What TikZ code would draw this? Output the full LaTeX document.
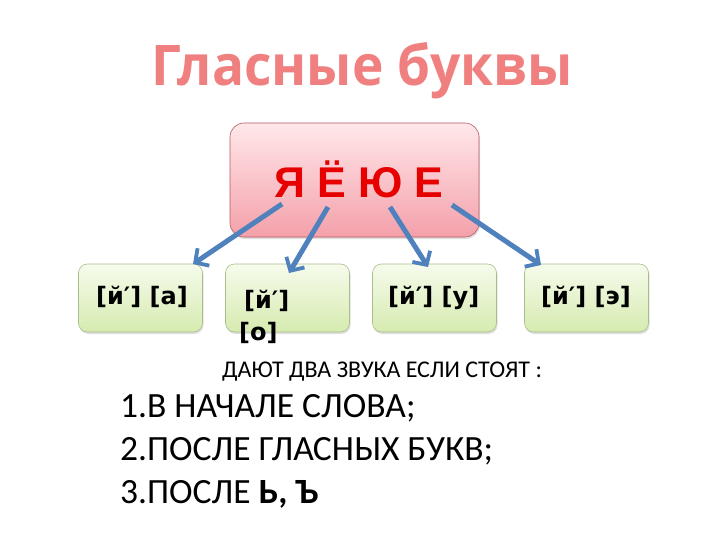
\documentclass[tikz,border=0pt]{standalone}
\usepackage{fontspec}
\setmainfont{Carlito}
\newfontfamily\titlefont[FakeStretch=0.95]{Open Sans}
\newfontfamily\arialfont{Liberation Sans}
\newfontfamily\soundfont{DejaVu Sans}
\usetikzlibrary{arrows.meta,shadows}
\definecolor{titlecol}{RGB}{240,128,128}
\definecolor{lettercol}{RGB}{230,0,0}
\definecolor{arrowcol}{RGB}{79,129,189}
\definecolor{pinktop}{RGB}{255,232,234}
\definecolor{pinkbot}{RGB}{244,160,170}
\definecolor{pinkline}{RGB}{180,90,100}
\definecolor{greentop}{RGB}{246,251,236}
\definecolor{greenbot}{RGB}{214,235,176}
\definecolor{greenline}{RGB}{168,190,140}
\begin{document}
\begin{tikzpicture}[x=1pt,y=-1pt,
  titlestyle/.style={inner sep=0pt,anchor=base,text=titlecol,font=\titlefont\bfseries\fontsize{56}{60}\selectfont},
  topbox/.style={draw=pinkline,line width=0.6pt,rounded corners=14pt,top color=pinktop,bottom color=pinkbot,minimum width=249pt,minimum height=114pt,inner sep=0pt,drop shadow={opacity=0.25,shadow xshift=1pt,shadow yshift=-2pt}},
  lettersstyle/.style={inner sep=0pt,anchor=base,text=lettercol,font=\arialfont\bfseries\fontsize{43}{44}\selectfont},
  soundbox/.style={draw=greenline,line width=0.6pt,rounded corners=9pt,top color=greentop,bottom color=greenbot,minimum width=124pt,minimum height=68pt,inner sep=0pt,drop shadow={opacity=0.25,shadow xshift=1pt,shadow yshift=-2pt}},
  soundtext/.style={inner sep=0pt,anchor=base west,font=\soundfont\bfseries\fontsize{24}{25}\selectfont},
  arr/.style={draw=arrowcol,line width=5pt,-{Straight Barb[length=10pt,width=21pt,line width=3.8pt]}},
  smalltext/.style={inner sep=0pt,anchor=base west,font=\fontsize{24}{25}\selectfont},
  ruletext/.style={inner sep=0pt,anchor=base west,font=\fontsize{35.5}{36}\selectfont}
]
\useasboundingbox (0,0) rectangle (720,540);
\fill[white] (0,0) rectangle (720,540);
\node[titlestyle] (title) at (362,86) {Гласные буквы};
\node[topbox] (top) at (354.5,180) {};
\node[lettersstyle] (letters) at (359,197) {Я Ё Ю Е};
\node[soundbox] (b1) at (140.5,298) {};
\node[soundbox] (b2) at (287.5,298) {};
\node[soundbox] (b3) at (434.5,298) {};
\node[soundbox] (b4) at (586.5,298) {};
\node[soundtext] (t1) at (96,304) {[й′] [а]};
\node[soundtext] (t2a) at (244,308) {[й′]};
\node[soundtext] (t2b) at (239,340) {[о]};
\node[soundtext] (t3) at (388,304) {[й′] [у]};
\node[soundtext] (t4) at (541,304) {[й′] [э]};
\coordinate (s1) at (282,204);
\coordinate (e1) at (193,264);
\coordinate (s2) at (328,207);
\coordinate (e2) at (289,273);
\coordinate (s3) at (390,207);
\coordinate (e3) at (428,267);
\coordinate (s4) at (452,205);
\coordinate (e4) at (541,265);
\draw[arr] (s1) -- (e1);
\draw[arr] (s2) -- (e2);
\draw[arr] (s3) -- (e3);
\draw[arr] (s4) -- (e4);
\node[smalltext] (cond) at (222,377) {ДАЮТ ДВА ЗВУКА ЕСЛИ СТОЯТ :};
\node[ruletext] (r1) at (120,417) {1.В НАЧАЛЕ СЛОВА;};
\node[ruletext] (r2) at (120,460) {2.ПОСЛЕ ГЛАСНЫХ БУКВ;};
\node[ruletext] (r3) at (120,503) {3.ПОСЛЕ \textbf{Ь, Ъ}};
\end{tikzpicture}
\end{document}
